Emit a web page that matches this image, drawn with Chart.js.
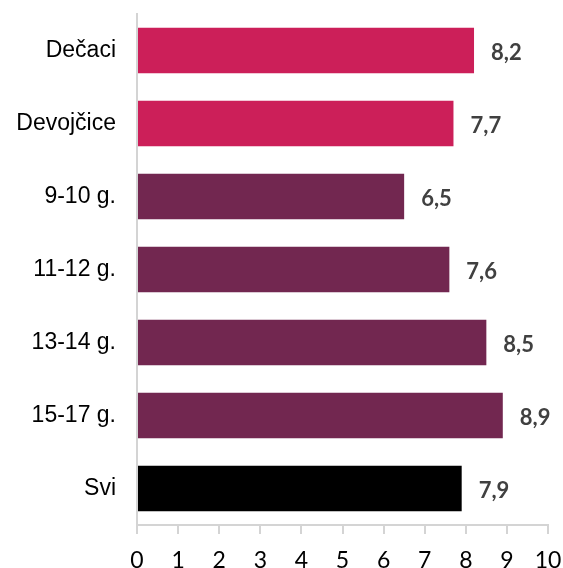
<!DOCTYPE html>
<html>
<head>
<meta charset="utf-8">
<script src="https://cdn.jsdelivr.net/npm/chart.js@4/dist/chart.umd.min.js"></script>
<style>
  html, body { margin: 0; padding: 0; background: #fff; }
  #wrap { width: 563px; height: 568px; }
</style>
</head>
<body>
<div id="wrap"><canvas id="grafikon"></canvas></div>
<script>
// podaci sa slike
const kategorije = ['Dečaci', 'Devojčice', '9-10 g.', '11-12 g.', '13-14 g.', '15-17 g.', 'Svi'];
const vrednosti = [8.2, 7.7, 6.5, 7.6, 8.5, 8.9, 7.9];
const boje = ['#cc1f59', '#cc1f59', '#722750', '#722750', '#722750', '#722750', '#000000'];
const xTikovi = [0, 1, 2, 3, 4, 5, 6, 7, 8, 9, 10];

const osaBoja = '#d4d4d4';

// ispisuje vrednost desno od svakog stubića
const oznakeVrednosti = {
  id: 'oznakeVrednosti',
  afterDatasetsDraw(chart) {
    const ctx = chart.ctx;
    const meta = chart.getDatasetMeta(0);
    ctx.save();
    ctx.font = 'bold 22px Lato';
    ctx.fillStyle = '#404040';
    ctx.textAlign = 'left';
    ctx.textBaseline = 'middle';
    meta.data.forEach((bar, i) => {
      const tekst = vrednosti[i].toFixed(1).replace('.', ',');
      ctx.fillText(tekst, bar.x + 17, bar.y + 2);
    });
    ctx.restore();
  }
};

new Chart(document.getElementById('grafikon'), {
  type: 'bar',
  data: {
    labels: kategorije,
    datasets: [{
      data: vrednosti,
      backgroundColor: boje,
      categoryPercentage: 1,
      barPercentage: 0.625
    }]
  },
  options: {
    indexAxis: 'y',
    responsive: true,
    maintainAspectRatio: false,
    animation: false,
    layout: { padding: { top: 14, right: 15, bottom: 0, left: 0 } },
    plugins: {
      legend: { display: false },
      tooltip: { enabled: false }
    },
    scales: {
      x: {
        min: 0,
        max: 10,
        afterBuildTicks(axis) {
          axis.ticks = xTikovi.map(v => ({ value: v }));
        },
        afterFit(axis) {
          axis.height = 43;
          axis.paddingLeft = 0;
          axis.paddingRight = 0;
        },
        grid: {
          display: true,
          drawOnChartArea: false,
          drawTicks: true,
          tickLength: 9,
          lineWidth: 2,
          color: osaBoja
        },
        border: { display: true, color: osaBoja, width: 2 },
        ticks: {
          padding: 13,
          color: '#000',
          font: { family: 'Lato', size: 23 },
          maxRotation: 0
        }
      },
      y: {
        afterFit(axis) {
          axis.width = 137;
          axis.paddingTop = 0;
          axis.paddingBottom = 0;
        },
        grid: { display: false, drawTicks: false },
        border: { display: true, color: osaBoja, width: 2 },
        ticks: {
          padding: 21,
          color: '#000',
          font: { family: 'Liberation Sans', size: 23 }
        }
      }
    }
  },
  plugins: [oznakeVrednosti]
});
</script>
</body>
</html>
